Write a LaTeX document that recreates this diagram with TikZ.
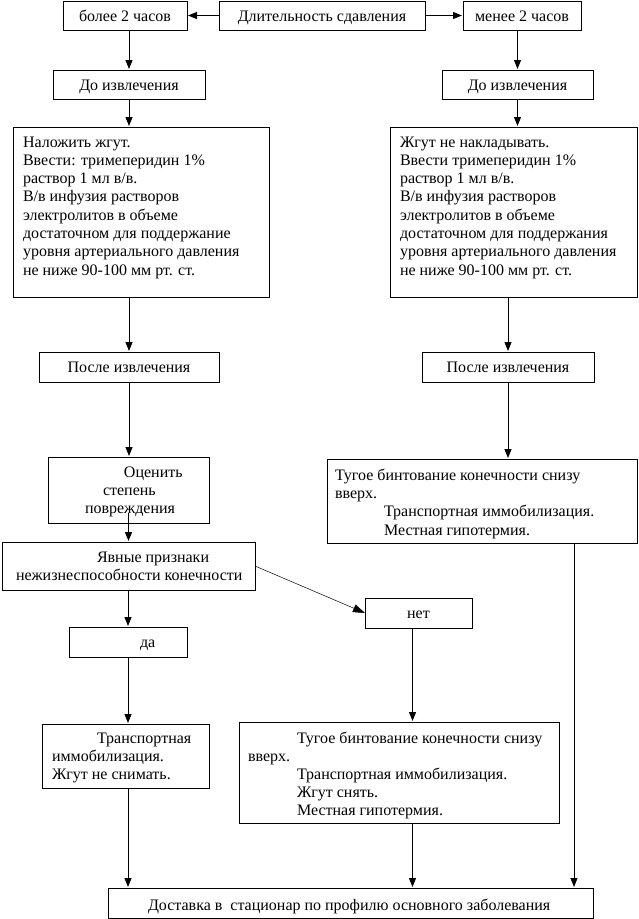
\documentclass[tikz,border=0pt]{standalone}
\usepackage{fontspec}
\setmainfont{Liberation Serif}
\usetikzlibrary{arrows.meta,calc}
\newcommand\mtext[5]{\parbox[t][#2][t]{#1}{\raggedright\baselineskip=#3\relax\rule{0pt}{#4}#5}}
\newcommand\ind[1]{\hspace*{#1}}
\tikzset{
  bx/.style={draw, line width=0.8pt, inner sep=0pt, outer sep=0pt},
  sb/.style={bx, text height=11pt, text depth=0pt, align=center},
  arr/.style={line width=0.8pt, -{Triangle[width=7pt,length=9pt]}, shorten >=1pt},
  darr/.style={line width=0.5pt, -{Triangle[width=8pt,length=12pt]}},
  every node/.style={font=\fontsize{16pt}{18.4pt}\selectfont}
}
\begin{document}
\begin{tikzpicture}[x=1pt,y=-1pt]
\useasboundingbox (0,0) rectangle (638,919);
% top row
\node[sb, minimum width=124pt, minimum height=29pt] (bolee) at (125,15.5) {более 2 часов};
\node[sb, minimum width=206pt, minimum height=29pt] (dlit) at (322,15.5) {Длительность сдавления};
\node[sb, minimum width=118pt, minimum height=29pt] (menee) at (522,15.5) {менее 2 часов};
\node[sb, minimum width=152pt, minimum height=29pt] (doL) at (129,84.5) {До извлечения};
\node[sb, minimum width=151pt, minimum height=29pt] (doR) at (517.5,84.5) {До извлечения};
% big boxes
\node[bx, anchor=north west] (bigL) at (13,127) {\mtext{256pt}{170pt}{18.3pt}{20pt}{%
\ind{10pt}Наложить жгут.\\
\ind{10pt}Ввести: тримеперидин 1\%\\
\ind{10pt}раствор 1 мл в/в.\\
\ind{10pt}В/в инфузия растворов\\
\ind{10pt}электролитов в объеме\\
\ind{10pt}достаточном для поддержание\\
\ind{10pt}уровня артериального давления\\
\ind{10pt}не ниже 90-100 мм рт. ст.}};
\node[bx, anchor=north west] (bigR) at (390,127) {\mtext{247pt}{170pt}{18.3pt}{20pt}{%
\ind{10pt}Жгут не накладывать.\\
\ind{10pt}Ввести тримеперидин 1\%\\
\ind{10pt}раствор 1 мл в/в.\\
\ind{10pt}В/в инфузия растворов\\
\ind{10pt}электролитов в объеме\\
\ind{10pt}достаточном для поддержания\\
\ind{10pt}уровня артериального давления\\
\ind{10pt}не ниже 90-100 мм рт. ст.}};
% after extraction
\node[sb, minimum width=180pt, minimum height=30pt] (posleL) at (129,367) {После извлечения};
\node[sb, minimum width=172pt, minimum height=30pt] (posleR) at (508,367) {После извлечения};
\node[bx, anchor=north west] (ocen) at (48,457) {\mtext{161pt}{66pt}{18pt}{20pt}{%
\ind{76pt}Оценить\\
\ind{55pt}степень\\
\ind{37pt}повреждения}};
\node[bx, anchor=north west] (tugR) at (327,459) {\mtext{310pt}{84pt}{18.4pt}{21pt}{%
\ind{8pt}Тугое бинтование конечности снизу\\
\ind{8pt}вверх.\\
\ind{57pt}Транспортная иммобилизация.\\
\ind{57pt}Местная гипотермия.}};
\node[bx, anchor=north west] (yavn) at (2,542) {\mtext{253pt}{48pt}{18pt}{20pt}{%
\ind{95pt}Явные признаки\\
\ind{14pt}нежизнеспособности конечности}};
\node[bx, anchor=north west] (da) at (69,627) {\mtext{118pt}{30pt}{18pt}{20pt}{\ind{71pt}да}};
\node[sb, minimum width=107pt, minimum height=30pt] (net) at (418.5,613) {нет};
\node[bx, anchor=north west] (transp) at (42,724) {\mtext{167pt}{64pt}{18pt}{19pt}{%
\ind{55pt}Транспортная\\
\ind{10pt}иммобилизация.\\
\ind{10pt}Жгут не снимать.}};
\node[bx, anchor=north west] (tugL) at (239,722) {\mtext{320pt}{101pt}{18pt}{21pt}{%
\ind{58pt}Тугое бинтование конечности снизу\\
\ind{9pt}вверх.\\
\ind{58pt}Транспортная иммобилизация.\\
\ind{58pt}Жгут снять.\\
\ind{58pt}Местная гипотермия.}};
\node[bx, anchor=north west] (dost) at (108,888) {\mtext{485pt}{30pt}{18pt}{22pt}{%
\ind{40pt}Доставка в\ \ стационар по профилю основного заболевания}};
% connectors
\draw[arr] (dlit.west) -- (bolee.east);
\draw[arr] (dlit.east) -- (menee.west);
\draw[arr] (doL.north |- bolee.south) -- (doL.north);
\draw[arr] (doR.north |- menee.south) -- (doR.north);
\draw[arr] (doL.south) -- (doL.south |- bigL.north);
\draw[arr] (doR.south) -- (doR.south |- bigR.north);
\draw[arr] (posleL.north |- bigL.south) -- (posleL.north);
\draw[arr] (posleR.north |- bigR.south) -- (posleR.north);
\draw[arr] (posleL.south) -- (posleL.south |- ocen.north);
\draw[arr] (posleR.south) -- (posleR.south |- tugR.north);
\draw[arr] ([yshift=10pt]ocen.south) -- (ocen.south |- yavn.north);
\draw[arr] (yavn.south -| da.north) -- (da.north);
\draw[darr] (yavn.east) -- (net.west);
\draw[arr] (da.south) -- (da.south |- transp.north);
\draw[arr] ([xshift=-6pt]net.south) -- ([xshift=-6pt]net.south |- tugL.north);
\draw[arr] (da.south |- transp.south) -- (da.south |- dost.north);
\draw[arr] ([xshift=-6pt]net.south |- tugL.south) -- ([xshift=-6pt]net.south |- dost.north);
\draw[arr] ([xshift=92pt]tugR.south) -- ([xshift=92pt]tugR.south |- dost.north);
\end{tikzpicture}
\end{document}
